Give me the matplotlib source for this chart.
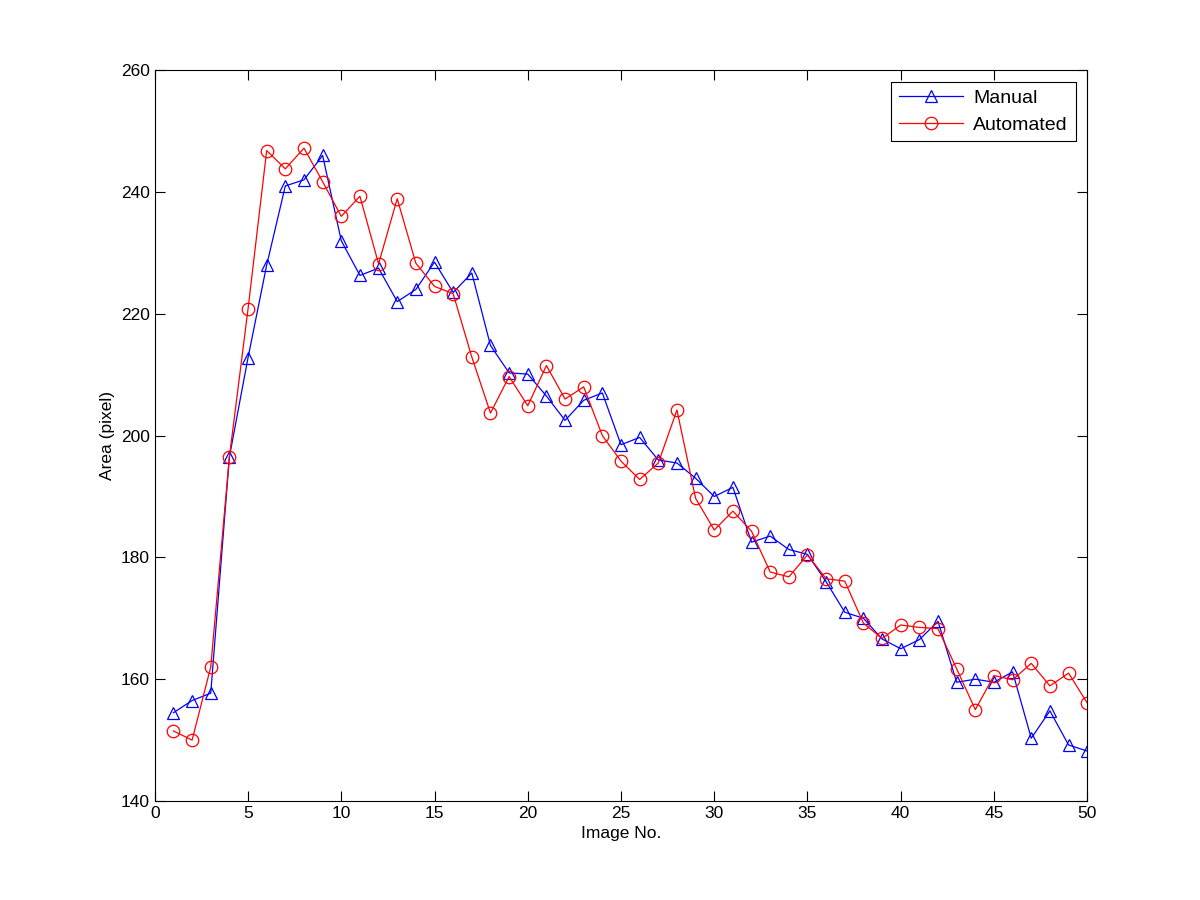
import numpy as np
import matplotlib
matplotlib.use("Agg")
import matplotlib.pyplot as plt

plt.rcParams['font.family'] = ['Liberation Sans', 'DejaVu Sans']

# donnees
image_no = np.arange(1, 51)
manual = [154.5, 156.5, 157.7, 196.5, 212.8, 228.0, 241.0, 242.0, 246.0, 232.0,
          226.3, 227.5, 222.0, 224.0, 228.5, 223.5, 226.7, 214.8, 210.3, 210.1,
          206.5, 202.5, 205.8, 207.0, 198.5, 199.7, 196.0, 195.5, 193.0, 190.0,
          191.5, 182.5, 183.5, 181.3, 180.5, 176.0, 171.0, 170.0, 166.6, 165.0,
          166.5, 169.5, 159.5, 160.0, 159.5, 161.2, 150.3, 154.8, 149.2, 148.2]
automated = [151.5, 150.0, 162.0, 196.5, 220.8, 246.8, 243.8, 247.2, 241.7, 236.0,
             239.3, 228.2, 238.9, 228.3, 224.5, 223.3, 212.9, 203.7, 209.7, 204.9,
             211.5, 206.0, 208.0, 200.0, 195.8, 192.8, 195.5, 204.2, 189.7, 184.5,
             187.6, 184.3, 177.6, 176.8, 180.4, 176.5, 176.1, 169.2, 166.7, 168.9,
             168.5, 168.3, 161.7, 155.0, 160.6, 159.9, 162.6, 158.9, 161.0, 156.1]

fig = plt.figure(figsize=(12, 9), dpi=100)
ax = fig.add_axes([0.129, 0.11, 0.777, 0.812])

ax.plot(image_no, manual, color='blue', lw=0.9, marker='^', ms=9,
        mfc='none', mec='blue', mew=0.9, label='Manual')
ax.plot(image_no, automated, color='red', lw=0.9, marker='o', ms=9,
        mfc='none', mec='red', mew=0.9, label='Automated')

ax.set_xlim(0, 50)
ax.set_ylim(140, 260)
ax.set_xticks(np.arange(0, 51, 5))
ax.set_yticks(np.arange(140, 261, 20))
ax.tick_params(direction='in', top=True, right=True, labelsize=12.5, length=7, width=0.8)
for s in ax.spines.values():
    s.set_linewidth(0.8)
ax.set_xlabel('Image No.', fontsize=12.5)
ax.set_ylabel('Area (pixel)', fontsize=12.5)

leg = ax.legend(loc='upper right', fontsize=14, fancybox=False, framealpha=1,
                edgecolor='black', borderaxespad=0.6, handlelength=3.3,
                labelspacing=0.45, handletextpad=0.5, borderpad=0.4)
leg.get_frame().set_linewidth(0.8)

fig.savefig('out.png', dpi=100)
